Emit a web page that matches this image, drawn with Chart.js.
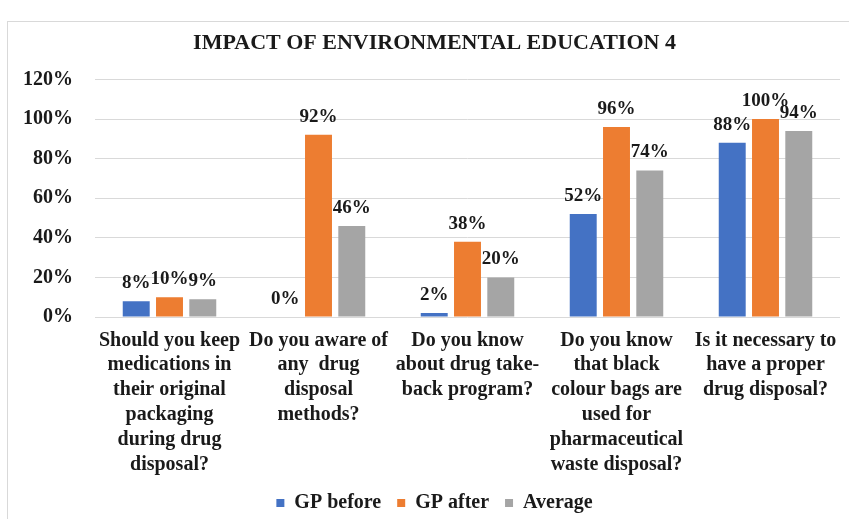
<!DOCTYPE html>
<html>
<head>
<meta charset="utf-8">
<script src="https://cdn.jsdelivr.net/npm/chart.js@4"></script>
<style>
  html, body { margin: 0; padding: 0; background: #fff; overflow: hidden; }
  #wrap { position: relative; width: 849px; height: 519px; }
  #frame { position: absolute; left: 7px; top: 21px; width: 900px; height: 600px; border: 1px solid #d9d9d9; box-sizing: border-box; }
  canvas { position: absolute; left: 0; top: 0; }
</style>
</head>
<body>
<div id="wrap">
  <div id="frame"></div>
  <canvas id="chart" width="849" height="519"></canvas>
</div>
<script>
const questions = [
  ['Should you keep', 'medications in', 'their original', 'packaging', 'during drug', 'disposal?'],
  ['Do you aware of', 'any  drug', 'disposal', 'methods?'],
  ['Do you know', 'about drug take-', 'back program?'],
  ['Do you know', 'that black', 'colour bags are', 'used for', 'pharmaceutical', 'waste disposal?'],
  ['Is it necessary to', 'have a proper', 'drug disposal?']
];
const gpBefore = [8, 0, 2, 52, 88];
const gpAfter = [10, 92, 38, 96, 100];
const average = [9, 46, 20, 74, 94];

const serif = '"Liberation Serif", "Times New Roman", serif';
const ink = '#1a1a1a';

// value labels above each bar
const barLabels = {
  id: 'barLabels',
  afterDatasetsDraw(chart) {
    const ctx = chart.ctx;
    ctx.save();
    ctx.font = 'bold 19px ' + serif;
    ctx.fillStyle = ink;
    ctx.textAlign = 'center';
    ctx.textBaseline = 'middle';
    chart.data.datasets.forEach((ds, i) => {
      chart.getDatasetMeta(i).data.forEach((bar, j) => {
        ctx.fillText(ds.data[j] + '%', bar.x, bar.y - 18);
      });
    });
    ctx.restore();
  }
};

new Chart(document.getElementById('chart'), {
  type: 'bar',
  data: {
    labels: questions,
    datasets: [
      { label: 'GP before', data: gpBefore, backgroundColor: '#4472C4' },
      { label: 'GP after', data: gpAfter, backgroundColor: '#ED7D31' },
      { label: 'Average', data: average, backgroundColor: '#A5A5A5' }
    ]
  },
  options: {
    responsive: false,
    animation: false,
    layout: { padding: { left: 20, right: 0, top: 0, bottom: 0 } },
    datasets: { bar: { categoryPercentage: 0.67, barPercentage: 0.81 } },
    plugins: {
      title: {
        display: true,
        text: 'IMPACT OF ENVIRONMENTAL EDUCATION 4',
        color: ink,
        font: { family: serif, size: 22, weight: 'bold', lineHeight: 1.2 },
        padding: { top: 30, bottom: 23 }
      },
      legend: {
        position: 'bottom',
        maxHeight: 42,
        labels: {
          color: ink,
          font: { family: serif, size: 20, weight: 'bold' },
          boxWidth: 8,
          boxHeight: 8,
          padding: 16
        }
      },
      tooltip: { enabled: false }
    },
    scales: {
      x: {
        grid: { display: false },
        border: { display: false },
        ticks: {
          color: ink,
          font: { family: serif, size: 20, weight: 'bold', lineHeight: 1.24 },
          padding: 3,
          maxRotation: 0,
          autoSkip: false
        },
        afterFit(scale) { scale.height = 160; }
      },
      y: {
        min: 0,
        max: 120,
        grid: { color: '#d9d9d9', drawTicks: false },
        border: { display: false },
        ticks: {
          stepSize: 20,
          color: ink,
          font: { family: serif, size: 20, weight: 'bold' },
          padding: 22,
          callback: v => v + '%'
        },
        afterFit(scale) { scale.width = 75; }
      },
      // empty strip on the right so the plot stops short of the edge
      spacer: {
        type: 'linear',
        position: 'right',
        grid: { display: false },
        border: { display: false },
        ticks: { display: false },
        afterFit(scale) { scale.width = 9; }
      }
    }
  },
  plugins: [barLabels]
});
</script>
</body>
</html>
